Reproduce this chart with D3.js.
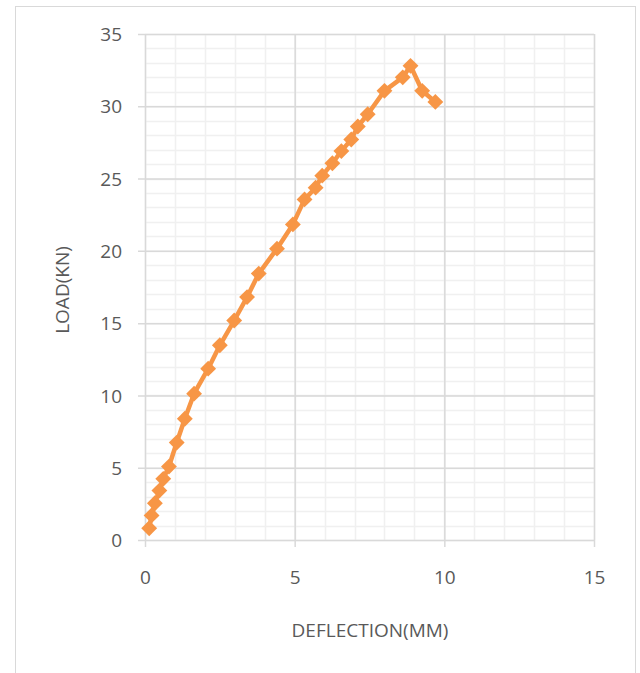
<!DOCTYPE html>
<html>
<head>
<meta charset="utf-8">
<script src="https://cdn.jsdelivr.net/npm/d3@7"></script>
<style>
  body { margin: 0; background: #fff; }
  text { font-family: "Open Sans", "Noto Sans", sans-serif; fill: #595959; }
</style>
</head>
<body>
<div class="chart"></div>
<script>
// deflection (mm) vs load (kN)
const deflection = [0.14, 0.22, 0.33, 0.48, 0.61, 0.8, 1.06, 1.33, 1.64, 2.11, 2.5, 2.98, 3.41, 3.8, 4.41,
  4.94, 5.33, 5.7, 5.92, 6.26, 6.56, 6.89, 7.11, 7.44, 8.0, 8.61, 8.87, 9.26, 9.7]
const load = [0.81, 1.7, 2.54, 3.42, 4.23, 5.08, 6.74, 8.39, 10.12, 11.85, 13.47, 15.18, 16.8, 18.43, 20.15,
  21.83, 23.56, 24.37, 25.2, 26.06, 26.9, 27.7, 28.6, 29.45, 31.07, 32.0, 32.8, 31.07, 30.3]
const xTicks = [0, 5, 10, 15]
const yTicks = [0, 5, 10, 15, 20, 25, 30, 35]

const data = deflection.map((d, i) => ({x: d, y: load[i]}))

const svgWidth = 640
const svgHeight = 673
const margin = {top: 34, right: 46, bottom: 133, left: 145}
const graphWidth = 594 - margin.left
const graphHeight = 540 - margin.top

const svg = d3.select('.chart')
    .append('svg')
    .attr('width', svgWidth)
    .attr('height', svgHeight)

// chart area border
svg.append('rect')
    .attr('x', 15.5)
    .attr('y', 6.5)
    .attr('width', 620)
    .attr('height', 700)
    .attr('fill', 'none')
    .attr('stroke', '#d9d9d9')

const graph = svg.append('g')
    .attr('transform', `translate(${margin.left},${margin.top})`)

const xScale = d3.scaleLinear().domain([0, 15]).range([0, graphWidth])
const yScale = d3.scaleLinear().domain([0, 35]).range([graphHeight, 0])

// minor grid
graph.append('g')
    .selectAll('line.vmin')
    .data(d3.range(0, 16))
    .join('line')
    .attr('x1', d => Math.round(xScale(d)) + 0.5)
    .attr('x2', d => Math.round(xScale(d)) + 0.5)
    .attr('y1', 0)
    .attr('y2', graphHeight)
    .attr('stroke', '#f0f0f0')
    .attr('stroke-width', 1.5)
graph.append('g')
    .selectAll('line.hmin')
    .data(d3.range(0, 36))
    .join('line')
    .attr('y1', d => Math.round(yScale(d)) + 0.5)
    .attr('y2', d => Math.round(yScale(d)) + 0.5)
    .attr('x1', 0)
    .attr('x2', graphWidth)
    .attr('stroke', '#f0f0f0')
    .attr('stroke-width', 1.5)

// major grid via axes
const yAxis = graph.append('g')
    .call(d3.axisLeft(yScale).tickValues(yTicks).tickSize(graphWidth + 7).tickPadding(16))
    .attr('transform', `translate(${graphWidth},0)`)
const xAxis = graph.append('g')
    .attr('transform', `translate(0,0)`)
    .call(d3.axisBottom(xScale).tickValues(xTicks).tickSize(graphHeight + 7).tickPadding(24))

;[xAxis, yAxis].forEach(a => {
    a.select('.domain').remove()
    a.selectAll('line').attr('stroke', '#d9d9d9').attr('stroke-width', 1.5)
    a.selectAll('text').style('font-size', '19px').attr('fill', '#595959')
})
yAxis.selectAll('text').attr('dy', '0.35em')

const line = d3.line().x(d => xScale(d.x)).y(d => yScale(d.y))

graph.append('path')
    .datum(data)
    .attr('d', line)
    .attr('fill', 'none')
    .attr('stroke', '#f79646')
    .attr('stroke-width', 4.5)
    .attr('stroke-linejoin', 'round')

graph.selectAll('.dot')
    .data(data)
    .join('path')
    .attr('class', 'dot')
    .attr('d', d3.symbol().type(d3.symbolDiamond2).size(160))
    .attr('transform', d => `translate(${xScale(d.x)},${yScale(d.y)})`)
    .attr('fill', '#f79646')

svg.append('text')
    .attr('x', 370)
    .attr('y', 637)
    .attr('text-anchor', 'middle')
    .style('font-size', '19px')
    .text('DEFLECTION(MM)')

svg.append('text')
    .attr('transform', 'translate(69,290) rotate(-90)')
    .attr('text-anchor', 'middle')
    .style('font-size', '19px')
    .text('LOAD(KN)')
</script>
</body>
</html>
